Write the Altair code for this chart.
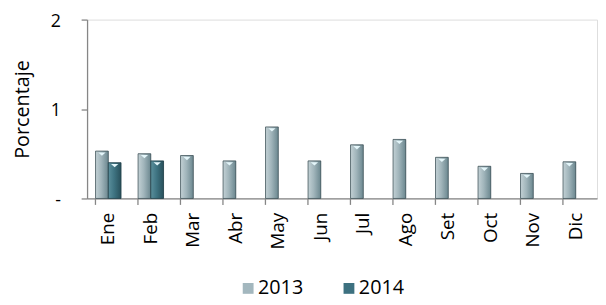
import altair as alt
import pandas as pd

months = ["Ene", "Feb", "Mar", "Abr", "May", "Jun", "Jul", "Ago", "Set", "Oct", "Nov", "Dic"]
v2013 = [0.53, 0.50, 0.48, 0.42, 0.80, 0.42, 0.60, 0.66, 0.46, 0.36, 0.28, 0.41]
v2014 = [0.40, 0.42, None, None, None, None, None, None, None, None, None, None]
years = ["2013", "2014"]
flat_colors = ["#a3b7be", "#3d7180"]

rows = []
for m, a, b in zip(months, v2013, v2014):
    rows.append({"mes": m, "anio": "2013", "valor": a})
    rows.append({"mes": m, "anio": "2014", "valor": b})
df = pd.DataFrame(rows)

FONT = "Open Sans"

x_enc = alt.X("mes:N", sort=months, title=None,
              scale=alt.Scale(paddingInner=0.4, paddingOuter=0.2),
              axis=alt.Axis(labelAngle=-90, labelFontSize=19, labelFont=FONT, labelColor="#000",
                            bandPosition=0, tickSize=6, tickColor="#868686", domainColor="#868686",
                            tickWidth=1.3, domainWidth=1.3,
                            labelPadding=8, labelBaseline="middle"))
y_enc = alt.Y("valor:Q", title="Porcentaje",
              scale=alt.Scale(domain=[0, 2], nice=False),
              axis=alt.Axis(values=[0, 1, 2], labelOverlap=False,
                            labelExpr="datum.value == 0 ? '-' : format(datum.value, 'd')",
                            grid=False, tickSize=6, tickColor="#868686", domainColor="#868686",
                            tickWidth=1.3, domainWidth=1.3, labelOffset=2,
                            labelFontSize=18, labelFont=FONT, labelColor="#000", labelPadding=21,
                            titleFont=FONT, titleFontSize=20, titleFontWeight="normal",
                            titleColor="#000", titlePadding=18))
xo = alt.XOffset("anio:N", sort=years, scale=alt.Scale(domain=years))

base = alt.Chart(df).transform_filter("isValid(datum.valor)")

flat = base.mark_bar().encode(
    x=x_enc, y=y_enc, xOffset=xo,
    color=alt.Color("anio:N", sort=years,
                    scale=alt.Scale(domain=years, range=flat_colors),
                    legend=alt.Legend(title=None, orient="none", direction="horizontal",
                                      legendX=153, legendY=262, labelFont=FONT, labelFontSize=20,
                                      labelColor="#000", symbolType="square", symbolSize=120,
                                      symbolStrokeWidth=0, columnPadding=36, labelOffset=0))
)

grad13 = alt.Gradient(gradient="linear", x1=0, x2=1, y1=0, y2=0,
                      stops=[alt.GradientStop(offset=0, color="#c3d1d5"),
                             alt.GradientStop(offset=0.45, color="#a1b5bb"),
                             alt.GradientStop(offset=1, color="#6b878f")])
grad14 = alt.Gradient(gradient="linear", x1=0, x2=1, y1=0, y2=0,
                      stops=[alt.GradientStop(offset=0, color="#5b8f9c"),
                             alt.GradientStop(offset=0.45, color="#3f7482"),
                             alt.GradientStop(offset=1, color="#28505b")])

g13 = base.transform_filter("datum.anio == '2013'").mark_bar(
    color=grad13, stroke="#33464c", strokeWidth=0.7).encode(x=x_enc, y=y_enc, xOffset=xo)
g14 = base.transform_filter("datum.anio == '2014'").mark_bar(
    color=grad14, stroke="#1f3a42", strokeWidth=0.7).encode(x=x_enc, y=y_enc, xOffset=xo)

tri = base.mark_point(shape="M-1,-0.45L1,-0.45L0,0.45Z", filled=True, size=55,
                      color="#e4f6fa", opacity=1, yOffset=3).encode(x=x_enc, y=y_enc, xOffset=xo)

chart = alt.layer(flat, g13, g14, tri).properties(
    width=516, height=181,
    autosize=alt.AutoSizeParams(type="none"),
    padding={"left": 80, "top": 10, "right": 1, "bottom": 100},
).configure_view(stroke=None).configure(background="white")

chart.save("out.html", embed_options={"renderer": "svg", "actions": False})
